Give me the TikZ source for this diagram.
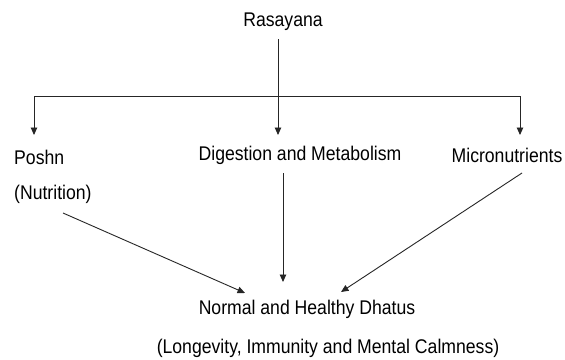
\documentclass[tikz,border=0pt]{standalone}
\usepackage{fontspec}
\setmainfont{Liberation Sans}[FakeStretch=0.89]
\usetikzlibrary{arrows.meta}
\begin{document}
\begin{tikzpicture}[x=1pt,y=-1pt,
  lbl/.style={inner sep=0pt,font=\fontsize{19.8}{22}\selectfont,text=black},
  conn/.style={line width=0.9pt,draw=black!85},
  arr/.style={conn,-{Triangle[length=7.5pt,width=6.5pt]}}]
\useasboundingbox[fill=white] (0,0) rectangle (565,359);
% texts
\node[lbl] (ras) at (283,22) {Rasayana};
\node[lbl,anchor=west] (posh) at (14,157) {Poshn};
\node[lbl,anchor=west] (nut) at (14,194) {(Nutrition)};
\node[lbl] (dig) at (300,155) {Digestion and Metabolism};
\node[lbl] (mic) at (507,155) {Micronutrients};
\node[lbl] (nor) at (307,309) {Normal and Healthy Dhatus};
\node[lbl] (lon) at (328,348) {(Longevity, Immunity and Mental Calmness)};
% junction coordinates
\coordinate (rs) at (278,39);
\coordinate (jm) at (278,96);
\coordinate (jl) at (34,96);
\coordinate (jr) at (520,96);
\coordinate (tl) at (34,135);
\coordinate (tm) at (278,135);
\coordinate (tr) at (520,135);
\coordinate (ns) at (63,213);
\coordinate (ds) at (283,173);
\coordinate (ms) at (522,173);
\coordinate (nl) at (245,293);
\coordinate (nm) at (283,282);
\coordinate (nr) at (341,292);
% connectors
\draw[conn] (jl) -- (jr);
\draw[arr] (rs) -- (tm);
\draw[arr] (jl) -- (tl);
\draw[arr] (jr) -- (tr);
\draw[arr] (ns) -- (nl);
\draw[arr] (ds) -- (nm);
\draw[arr] (ms) -- (nr);
\end{tikzpicture}
\end{document}
